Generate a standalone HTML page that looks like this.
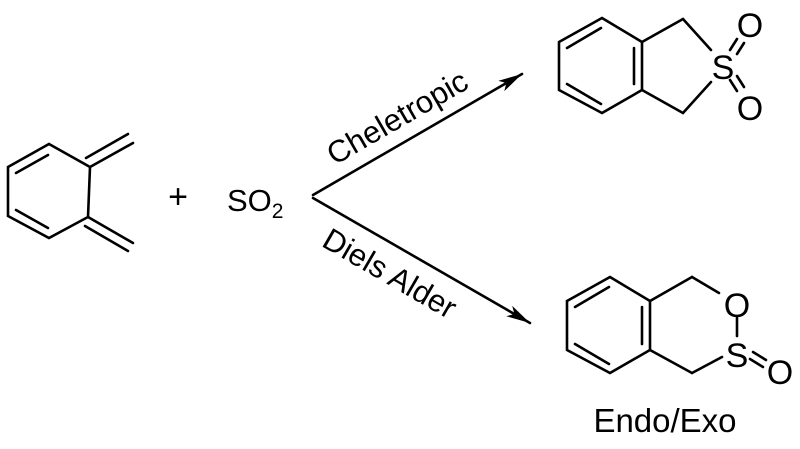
<!DOCTYPE html>
<html><head><style>
html,body{margin:0;padding:0;background:#fff;}
svg{display:block;}
text{font-family:"Liberation Sans",Arial,sans-serif;fill:#000;}
</style></head><body>
<svg width="800" height="449" viewBox="0 0 800 449" xmlns="http://www.w3.org/2000/svg">
<defs><marker id="ah" viewBox="0 0 24 12" refX="24" refY="6" markerWidth="24" markerHeight="12" markerUnits="userSpaceOnUse" orient="auto"><path d="M0,0 L24,6 L0,12 L6,6 Z" fill="#000"/></marker></defs>
<g stroke="#000" stroke-width="2.6" fill="none" stroke-linecap="round">
<path d="M49,144 L90,167 L88,217 L49,238 L8,216 L8,167 Z"/>
<line x1="16" y1="173" x2="48" y2="155"/>
<line x1="16" y1="210" x2="48" y2="228"/>
<line x1="90" y1="167" x2="133" y2="143"/>
<line x1="86" y1="158" x2="128" y2="134"/>
<line x1="88" y1="217" x2="133" y2="243"/>
<line x1="85" y1="226" x2="128" y2="251"/>
<line x1="313" y1="195" x2="522" y2="74" marker-end="url(#ah)"/>
<line x1="313" y1="198" x2="530" y2="323" marker-end="url(#ah)"/>
<path d="M602,18 L642,42 L642,90 L602,113 L559,90 L559,42 Z"/>
<line x1="567" y1="48" x2="601" y2="28"/>
<line x1="567" y1="84" x2="601" y2="104"/>
<line x1="634" y1="48" x2="634" y2="84"/>
<line x1="642" y1="42" x2="683" y2="19"/>
<line x1="683" y1="19" x2="711" y2="50"/>
<line x1="642" y1="90" x2="683" y2="113"/>
<line x1="683" y1="113" x2="711" y2="82"/>
<line x1="730" y1="50" x2="737" y2="39"/><line x1="737" y1="54" x2="744" y2="43"/>
<line x1="730" y1="80" x2="737" y2="91"/><line x1="737" y1="76" x2="744" y2="87"/>
<path d="M610,277 L650,301 L650,350 L610,373 L567,350 L567,301 Z"/>
<line x1="575" y1="307" x2="609" y2="287"/>
<line x1="575" y1="344" x2="609" y2="364"/>
<line x1="642" y1="307" x2="642" y2="344"/>
<line x1="650" y1="301" x2="692" y2="277"/>
<line x1="692" y1="277" x2="719" y2="293"/>
<line x1="737" y1="318" x2="737" y2="336"/>
<line x1="650" y1="350" x2="692" y2="373"/>
<line x1="692" y1="373" x2="722" y2="357"/>
<line x1="753" y1="352" x2="766" y2="360"/><line x1="750" y1="359" x2="763" y2="367"/>
</g>
<text x="178" y="208" font-size="34" text-anchor="middle">+</text>
<text x="227" y="211" font-size="31">SO<tspan font-size="21" dy="7">2</tspan></text>
<text x="397" y="128" font-size="31" text-anchor="middle" transform="rotate(-30 397 117)">Cheletropic</text>
<text x="390" y="284" font-size="31" text-anchor="middle" transform="rotate(30 390 273)">Diels Alder</text>
<text x="723" y="79" font-size="34" text-anchor="middle">S</text>
<text x="750" y="37" font-size="34" text-anchor="middle">O</text>
<text x="750" y="120" font-size="34" text-anchor="middle">O</text>
<text x="737" y="317" font-size="34" text-anchor="middle">O</text>
<text x="737" y="367" font-size="34" text-anchor="middle">S</text>
<text x="780" y="384" font-size="34" text-anchor="middle">O</text>
<text x="665" y="432" font-size="33" text-anchor="middle">Endo/Exo</text>
</svg>
</body></html>
